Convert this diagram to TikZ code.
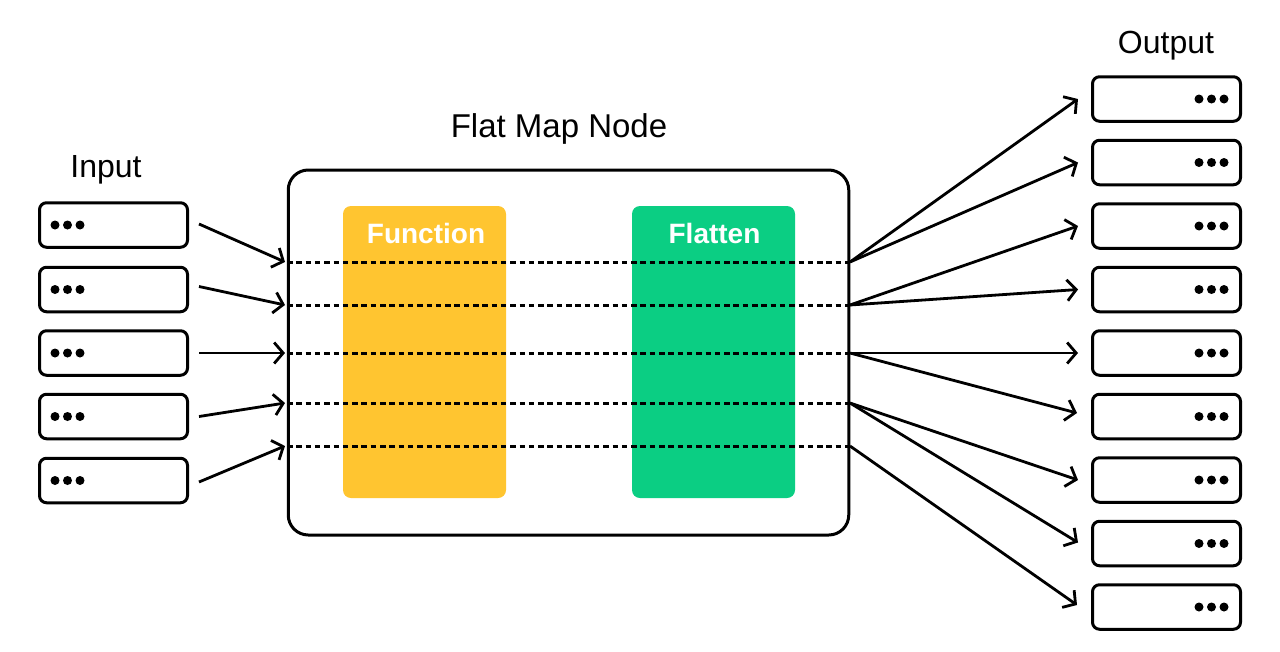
\documentclass[tikz,border=0pt]{standalone}
\usepackage{fontspec}
\setmainfont{Liberation Sans}
\usetikzlibrary{arrows.meta,calc}
\definecolor{fnyellow}{HTML}{FFC530}
\definecolor{flgreen}{HTML}{0BCE83}
\begin{document}
\begin{tikzpicture}[x=1pt,y=-1pt,
  recbox/.style={draw, line width=3pt, rounded corners=7pt, minimum width=148pt, minimum height=44.5pt, inner sep=0pt},
  dotmark/.style={fill=black},
  arr/.style={line width=2.8pt, -{Straight Barb[length=9pt,width=21pt,line width=2.8pt]}},
  flow/.style={line width=3pt, dash pattern=on 5.5pt off 3.8pt},
  lbl/.style={font=\fontsize{32}{36}\selectfont, anchor=base, inner sep=0pt},
  stagelbl/.style={font=\fontsize{28}{32}\selectfont\bfseries, text=white, anchor=base, inner sep=0pt},
  stage/.style={rounded corners=8pt, minimum width=163pt, minimum height=292pt, inner sep=0pt}]
\useasboundingbox (0,0) rectangle (1280,651);
\fill[white] (0,0) rectangle (1280,651);

% main node
\node[draw, line width=3pt, rounded corners=20pt, minimum width=560.5pt, minimum height=365pt, inner sep=0pt] (fm) at (568.5,352.5) {};
\node[stage, fill=fnyellow] (fn) at (424.5,352) {};
\node[stage, fill=flgreen] (fl) at (713.5,352) {};
\node[stagelbl] (fnlbl) at (426,243) {Function};
\node[stagelbl] (fllbl) at (714.5,243) {Flatten};
\node[lbl, font=\fontsize{33}{38}\selectfont] (fmlbl) at (559,137) {Flat Map Node};

% flow lines
\foreach \k/\y in {1/262,2/305,3/353,4/403,5/446}{
  \coordinate (l\k) at (287,\y);
  \coordinate (r\k) at (850,\y);
  \draw[flow] (l\k) -- (r\k);
}

% inputs
\node[lbl] (inlbl) at (106,177) {Input};
\foreach \k/\y in {1/225,2/289.5,3/353,4/416.5,5/480.5}{
  \node[recbox] (i\k) at (113.5,\y) {};
  \foreach \dx in {17,29.5,42}{
    \fill[dotmark] ($(i\k.west)+(\dx,0)$) circle (4.5pt);
  }
}
\draw[arr] ($(i1.east)+(10,-1)$) -- ($(l1)+(-2,0)$);
\draw[arr] ($(i2.east)+(10,-3)$) -- ($(l2)+(-2,0)$);
\draw[arr] ($(i3.east)+(10,0)$) -- ($(l3)+(-2,0)$);
\draw[arr] ($(i4.east)+(10,0)$) -- ($(l4)+(-2,0)$);
\draw[arr] ($(i5.east)+(10,1.5)$) -- ($(l5)+(-2,0)$);

% outputs
\node[lbl] (outlbl) at (1166,53) {Output};
\foreach \k/\y in {1/99,2/162.5,3/226,4/289.5,5/353,6/416.5,7/480,8/543.5,9/607}{
  \node[recbox] (o\k) at (1166.5,\y) {};
  \foreach \dx in {18,30.5,43}{
    \fill[dotmark] ($(o\k.east)+(-\dx,0)$) circle (4.5pt);
  }
}
\draw[arr] (r1) -- ($(o1.west)+(-13,0)$);
\draw[arr] (r1) -- ($(o2.west)+(-13,0)$);
\draw[arr] (r2) -- ($(o3.west)+(-13,0)$);
\draw[arr] (r2) -- ($(o4.west)+(-13,0)$);
\draw[arr] (r3) -- ($(o5.west)+(-13,0)$);
\draw[arr] (r3) -- ($(o6.west)+(-14,-3.5)$);
\draw[arr] (r4) -- ($(o7.west)+(-13,0)$);
\draw[arr] (r4) -- ($(o8.west)+(-13,-1)$);
\draw[arr] (r5) -- ($(o9.west)+(-14,-2)$);
\end{tikzpicture}
\end{document}
